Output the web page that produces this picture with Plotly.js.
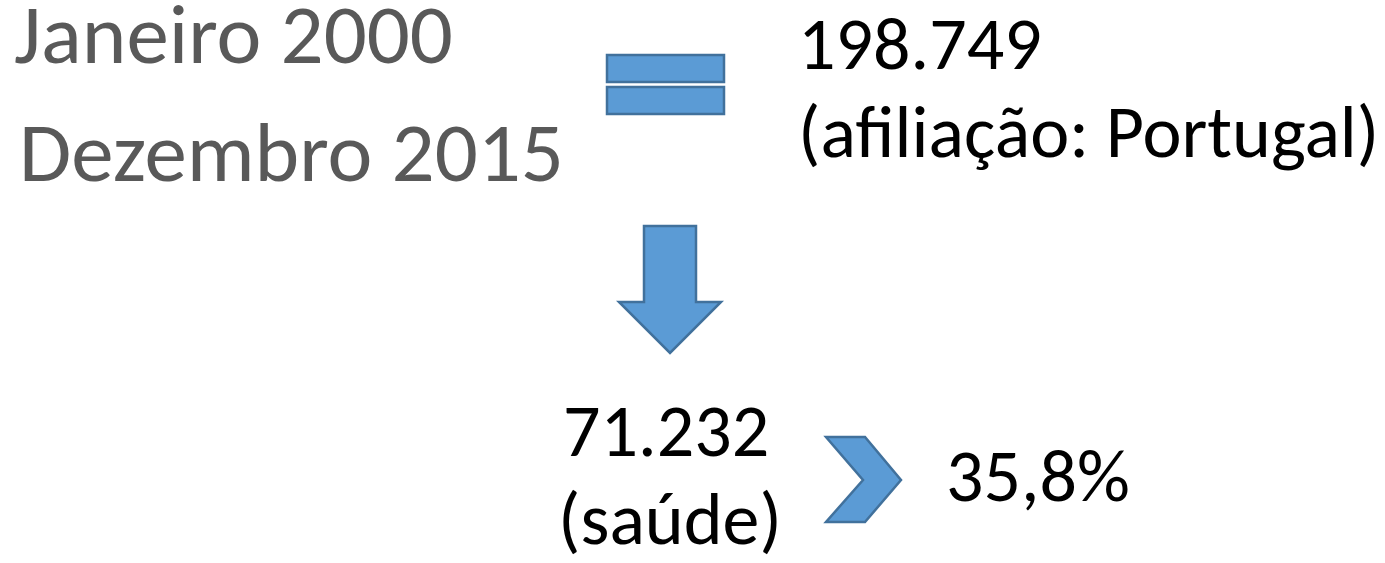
<!DOCTYPE html>
<html>
<head>
<meta charset="utf-8">
<script src="https://cdn.plot.ly/plotly-3.0.1.min.js"></script>
<style>html,body{margin:0;padding:0;background:#fff;}#chart{width:1385px;height:563px;}</style>
</head>
<body>
<div id="chart"></div>
<script>
// ---- data ----
const periodLabels = ["Janeiro 2000", "Dezembro 2015"];
const totalCount = 198749;
const totalLabel = "(afiliação: Portugal)";
const healthCount = 71232;
const healthLabel = "(saúde)";
const healthShare = 35.8;

function ptNumber(n) {
  return String(n).replace(/\B(?=(\d{3})+(?!\d))/g, ".");
}
function ptPercent(p) {
  return p.toFixed(1).replace(".", ",") + "%";
}

const FONT = "Carlito, Lato, sans-serif";
const GREY = "#595959";
const FILL = "#5B9BD5";
const EDGE = "#41719C";
const leftSize = 85, rightSize = 74;

const annotations = [
  {text: periodLabels[0], x: 12, y: 88, size: leftSize, color: GREY, ya: "bottom"},
  {text: periodLabels[1], x: 17, y: 206, size: leftSize, color: GREY, ya: "bottom"},
  {text: ptNumber(totalCount), x: 796, y: 91, size: rightSize, color: "#000", ya: "bottom"},
  {text: totalLabel, x: 796, y: 179, size: rightSize, color: "#000", ya: "bottom"},
  {text: ptNumber(healthCount), x: 561, y: 478, size: rightSize, color: "#000", ya: "bottom"},
  {text: healthLabel, x: 556, y: 472, size: rightSize, color: "#000", ya: "top"},
  {text: ptPercent(healthShare), x: 944, y: 523, size: rightSize, color: "#000", ya: "bottom"}
].map(a => ({
  text: a.text, x: a.x, y: a.y, xref: "x", yref: "y",
  xanchor: "left", yanchor: a.ya, showarrow: false,
  font: {family: FONT, size: a.size, color: a.color}
}));

const shapeStyle = {fillcolor: FILL, line: {color: EDGE, width: 2.5}, xref: "x", yref: "y", layer: "above"};
const shapes = [
  Object.assign({type: "rect", x0: 607, x1: 724, y0: 55, y1: 82}, shapeStyle),
  Object.assign({type: "rect", x0: 607, x1: 724, y0: 87, y1: 114}, shapeStyle),
  Object.assign({type: "path", path: "M644,226 L696,226 L696,302 L721,302 L670,353 L619,302 L644,302 Z"}, shapeStyle),
  Object.assign({type: "path", path: "M826,437 L865,437 L901,480 L865,522 L826,522 L863,480 Z"}, shapeStyle)
];

Plotly.newPlot("chart", [], {
  width: 1385, height: 563,
  margin: {l: 0, r: 0, t: 0, b: 0},
  paper_bgcolor: "#fff", plot_bgcolor: "#fff",
  xaxis: {range: [0, 1385], visible: false, fixedrange: true},
  yaxis: {range: [563, 0], visible: false, fixedrange: true},
  showlegend: false,
  annotations: annotations,
  shapes: shapes
}, {displayModeBar: false, staticPlot: true});
</script>
</body>
</html>
